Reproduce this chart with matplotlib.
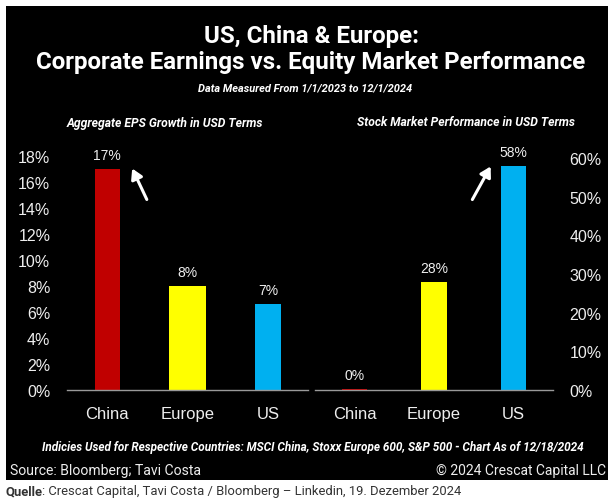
import matplotlib
matplotlib.use("Agg")
import matplotlib.pyplot as plt
from matplotlib.patches import Rectangle, FancyArrowPatch

# Data
countries = ["China", "Europe", "US"]
eps_growth = [17.0, 8.0, 6.6]          # % aggregate EPS growth in USD
market_perf = [0.2, 28.0, 58.0]        # % stock market performance in USD
eps_ticks = [0, 2, 4, 6, 8, 10, 12, 14, 16, 18]
perf_ticks = [0, 10, 20, 30, 40, 50, 60]
bar_colors = ["#c00000", "#ffff00", "#00b0f0"]

W, H = 610, 502
fig = plt.figure(figsize=(W / 100, H / 100), dpi=100)
fig.patch.set_facecolor("white")

def px(x, y):
    return x / W, 1 - y / H

# black card
bg = Rectangle((6 / W, 1 - 481 / H), 602 / W, 474 / H, transform=fig.transFigure,
               facecolor="black", edgecolor="none", zorder=-10)
fig.patches.append(bg)

head = ["Roboto", "DejaVu Sans"]
sans = ["Liberation Sans", "DejaVu Sans"]
light = "#eeeeee"

fig.text(*px(311, 36), "US, China & Europe:", ha="center", va="center",
         color="white", fontsize=17.4, fontweight="bold", family=head)
fig.text(*px(311, 63), "Corporate Earnings vs. Equity Market Performance", ha="center",
         va="center", color="white", fontsize=17.4, fontweight="bold", family=head)
fig.text(*px(305, 89), "Data Measured From 1/1/2023 to 12/1/2024", ha="center", va="center",
         color="white", fontsize=7.9, fontweight="bold", fontstyle="italic", family=head)
fig.text(*px(165, 123), "Aggregate EPS Growth in USD Terms", ha="center", va="center",
         color="white", fontsize=8.7, fontweight="bold", fontstyle="italic", family=head)
fig.text(*px(466, 123), "Stock Market Performance in USD Terms", ha="center", va="center",
         color="white", fontsize=8.7, fontweight="bold", fontstyle="italic", family=head)
fig.text(*px(313, 448), "Indicies Used for Respective Countries: MSCI China, Stoxx Europe 600, "
         "S&P 500 - Chart As of 12/18/2024", ha="center", va="center", color="white",
         fontsize=8.5, fontweight="bold", fontstyle="italic", family=head)
fig.text(*px(10, 471), "Source: Bloomberg; Tavi Costa", ha="left", va="center",
         color=light, fontsize=10.1, family=head)
fig.text(*px(606, 471), "\u00a9 2024 Crescat Capital LLC", ha="right", va="center",
         color=light, fontsize=10, family=head)

q = fig.text(*px(5, 492), "Quelle", ha="left", va="center", color="#333333",
             fontsize=9.4, fontweight="bold", family=head)
fig.canvas.draw()
qx = q.get_window_extent().x1
fig.text(qx / W, 1 - 492 / H,
         ": Crescat Capital, Tavi Costa / Bloomberg \u2013 Linkedin, 19. Dezember 2024",
         ha="left", va="center", color="#333333", fontsize=9.4, family=head)


def style_axes(ax, ticks, side):
    ax.set_facecolor("none")
    for s in ["top", "left", "right"]:
        ax.spines[s].set_visible(False)
    ax.spines["bottom"].set_color("#9a9a9a")
    ax.spines["bottom"].set_linewidth(1.0)
    ax.set_yticks(ticks)
    ax.set_yticklabels([f"{t}%" for t in ticks])
    ax.yaxis.set_ticks_position(side)
    ax.tick_params(axis="y", length=0, pad=12, colors=light, labelsize=11.5)
    ax.tick_params(axis="x", length=0, pad=11.5, colors=light, labelsize=12)
    for lab in ax.get_xticklabels() + ax.get_yticklabels():
        lab.set_family(sans)


# Left panel: EPS growth
ax1 = fig.add_axes([67 / W, 1 - 391 / H, 241 / W, 234 / H])
eps_widths = [0.31, 0.46, 0.32]
ax1.bar(range(3), eps_growth, width=eps_widths, color=bar_colors)
ax1.set_xlim(-0.5, 2.5)
ax1.set_ylim(0, 18)
ax1.set_xticks(range(3))
ax1.set_xticklabels(countries)
style_axes(ax1, eps_ticks, "left")
for i, v in enumerate(eps_growth):
    ax1.annotate(f"{v:.0f}%", (i, v), xytext=(0, 5), textcoords="offset points",
                 ha="center", va="bottom", color=light, fontsize=10, family=sans,
                 annotation_clip=False)

# Right panel: market performance
ax2 = fig.add_axes([315 / W, 1 - 391 / H, 238 / W, 232 / H])
ax2.bar(range(3), market_perf, width=0.32, color=bar_colors)
ax2.set_xlim(-0.5, 2.5)
ax2.set_ylim(0, 60)
ax2.set_xticks(range(3))
ax2.set_xticklabels(countries)
style_axes(ax2, perf_ticks, "right")
for i, v in enumerate(market_perf):
    ax2.annotate(f"{v:.0f}%", (i, v), xytext=(0, 5), textcoords="offset points",
                 ha="center", va="bottom", color=light, fontsize=10, family=sans,
                 annotation_clip=False)

# arrows pointing at the standout bars
for start, end in [((148, 203), (131, 167)), ((471, 203), (492, 165))]:
    arr = FancyArrowPatch(px(*start), px(*end), transform=fig.transFigure,
                          arrowstyle="-|>,head_length=6,head_width=3.5", color="white",
                          linewidth=2.2, mutation_scale=1)
    fig.patches.append(arr)

fig.savefig("out.png", dpi=100, facecolor="white")
